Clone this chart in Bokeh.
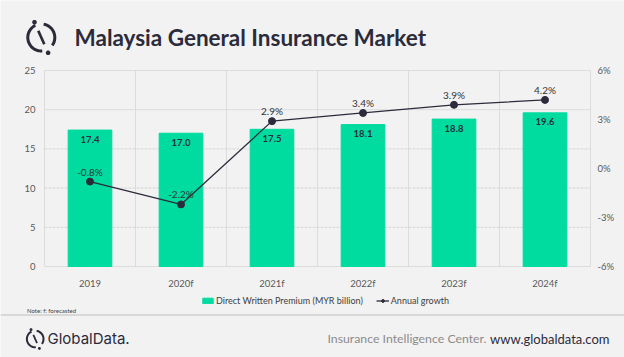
import numpy as np
from bokeh.plotting import figure
from bokeh.models import (Range1d, LinearAxis, FixedTicker, Legend, LegendItem,
                          ColumnDataSource, Label, PolyAnnotation)
from bokeh.core.properties import value
from bokeh.embed import file_html
from bokeh.resources import INLINE

# ---------------- data ----------------
categories = ["2019", "2020f", "2021f", "2022f", "2023f", "2024f"]
premium = [17.4, 17.0, 17.5, 18.1, 18.8, 19.6]
growth = [-0.8, -2.2, 2.9, 3.4, 3.9, 4.2]
left_ticks = [0, 5, 10, 15, 20, 25]
right_ticks = [-6, -3, 0, 3, 6]

BG = "#f2f2f2"
GREEN = "#00dba0"
DARK = "#2b2b3b"
GRID = "#dcdcdc"
FONT = "Lato"
W, H = 624, 357
FL, FR, FT, FB = 44, 590, 70, 266   # plot-area edges in page pixels

n = len(categories)
ymax, gmin, gmax = left_ticks[-1], right_ticks[0], right_ticks[-1]


# The frame covers the whole page; ranges are widened so the chart area sits at FL..FR, FT..FB.
def widen(lo, hi, p0, p1, full):
    per = (hi - lo) / (p1 - p0)
    return lo - p0 * per, hi + (full - p1) * per


xr = widen(0, n, FL, FR, W)
yr = widen(0, ymax, H - FB, H - FT, H)
gr = widen(gmin, gmax, H - FB, H - FT, H)

xs = np.arange(n) + 0.5
src = ColumnDataSource(dict(x=xs, premium=premium, growth=growth,
                            plab=[f"{v:.1f}" for v in premium],
                            glab=[f"{v:.1f}%" for v in growth]))

p = figure(width=W, height=H, x_range=Range1d(*xr), y_range=Range1d(*yr),
           output_backend="svg", toolbar_location=None, title=None, min_border=0,
           background_fill_color=BG, border_fill_color=BG, outline_line_color=None)
p.extra_y_ranges = {"g": Range1d(*gr)}

# grid lines bounded to the chart area
p.xgrid.visible = False
p.ygrid.visible = False
vx = list(range(n + 1))
p.segment(x0=vx, y0=[0] * len(vx), x1=vx, y1=[ymax] * len(vx), line_color=GRID, line_width=1)
solid = [t for t in left_ticks if t in (left_ticks[0], left_ticks[-2], left_ticks[-1])]
dashed = [t for t in left_ticks if t not in solid]
p.segment(x0=[0] * len(solid), y0=solid, x1=[n] * len(solid), y1=solid,
          line_color=GRID, line_width=1)
p.segment(x0=[0] * len(dashed), y0=dashed, x1=[n] * len(dashed), y1=dashed,
          line_color="#d6d6d6", line_width=1, line_dash="3 1")

bars = p.vbar(x="x", top="premium", width=0.48, source=src, fill_color=GREEN, line_color=GREEN)
gl = p.line(x="x", y="growth", source=src, y_range_name="g", line_color=DARK, line_width=1.3)
gs = p.scatter(x="x", y="growth", source=src, y_range_name="g", size=7, color=DARK)

p.text(x="x", y="premium", text="plab", source=src, text_align="center", text_baseline="middle",
       y_offset=9, text_font=value(FONT), text_font_style="bold", text_font_size="9.5px",
       text_color=DARK)
p.text(x="x", y="growth", text="glab", source=src, y_range_name="g", text_align="center",
       text_baseline="middle", y_offset=-10, text_font=value(FONT), text_font_size="10px",
       text_color="#333333")

# axes drawn at fixed locations (they take no border space)
p.xaxis.ticker = FixedTicker(ticks=list(xs))
p.xaxis.major_label_overrides = {float(x): c for x, c in zip(xs, categories)}
p.xaxis.fixed_location = 0
p.yaxis.ticker = FixedTicker(ticks=left_ticks)
p.yaxis.fixed_location = 0
ra = LinearAxis(y_range_name="g", ticker=FixedTicker(ticks=right_ticks), fixed_location=n)
ra.major_label_overrides = {t: f"{t}%" for t in right_ticks}
p.add_layout(ra, "right")
for ax in [p.xaxis[0], p.yaxis[0], ra]:
    ax.axis_line_color = None
    ax.major_tick_line_color = None
    ax.minor_tick_line_color = None
    ax.major_tick_out = 0
    ax.major_tick_in = 0
    ax.minor_tick_out = 0
    ax.major_label_text_font = FONT
    ax.major_label_text_font_size = "9.5px"
    ax.major_label_text_color = "#595959"
p.xaxis.major_label_standoff = 11
p.yaxis[0].major_label_standoff = 9
ra.major_label_standoff = 7

legend = Legend(items=[LegendItem(label="Direct Written Premium (MYR billion)", renderers=[bars]),
                       LegendItem(label="Annual growth", renderers=[gl, gs])],
                orientation="horizontal", location=(201, H - 306),
                background_fill_alpha=0, border_line_color=None,
                glyph_width=13, glyph_height=7, label_standoff=2, spacing=13,
                padding=0, margin=0, label_height=10,
                label_text_font=FONT, label_text_font_size="9px", label_text_color="#404040")
p.add_layout(legend)


# ------------- decorations (page pixel coords -> screen units of the full-page frame) -------------
def sx(X):
    return X


def sy(Y):
    return H - Y


def poly(xpts, ypts, color=DARK):
    p.add_layout(PolyAnnotation(xs=[sx(v) for v in xpts], ys=[sy(v) for v in ypts],
                                xs_units="screen", ys_units="screen",
                                fill_color=color, fill_alpha=1, line_color=None))


def ring(cx, cy, r, lw, a0, a1):
    t = np.deg2rad(np.linspace(a0, a1, 40))
    ro, ri = r + lw / 2, r - lw / 2
    xo = cx + ro * np.cos(t)
    yo = cy - ro * np.sin(t)
    xi = cx + ri * np.cos(t[::-1])
    yi = cy - ri * np.sin(t[::-1])
    poly(list(xo) + list(xi), list(yo) + list(yi))


def dot(cx, cy, r):
    t = np.linspace(0, 2 * np.pi, 20, endpoint=False)
    poly(list(cx + r * np.cos(t)), list(cy + r * np.sin(t)))


def bar_seg(x0, y0, x1, y1, lw):
    dx, dy = x1 - x0, y1 - y0
    nn = np.hypot(dx, dy)
    nx, ny = -dy / nn * lw / 2, dx / nn * lw / 2
    poly([x0 + nx, x1 + nx, x1 - nx, x0 - nx], [y0 + ny, y1 + ny, y1 - ny, y0 - ny])


def logo(cx, cy, r, lw, dr):
    ring(cx, cy, r, lw, 116, 274)
    ring(cx, cy, r, lw, -36, 80)
    ang = np.deg2rad(-66)
    ux, uy = np.cos(ang), -np.sin(ang)   # page coords (y down)
    bar_seg(cx - ux * r * 0.55, cy - uy * r * 0.55, cx + ux * r * 0.55, cy + uy * r * 0.55, lw * 0.9)
    dot(cx - ux * r * 1.24, cy - uy * r * 1.24, dr)
    dot(cx + ux * r * 1.24, cy + uy * r * 1.24, dr)


def label(X, Y, text, size, color=DARK, font=FONT, style="normal", align="left"):
    p.add_layout(Label(x=sx(X), y=sy(Y), x_units="screen", y_units="screen", text=text,
                       text_font=font, text_font_size=size, text_font_style=style,
                       text_color=color, text_baseline="middle", text_align=align))


# header
logo(40.8, 37, 13.5, 3, 2.3)
label(74, 37, "Malaysia General Insurance Market", "22.5px", style="bold")

# note, separator and footer
label(26.5, 310, "Note: f: forecasted", "6px", color="#404040")
poly([0, W, W, 0], [313.8, 313.8, 315.2, 315.2], color="#cfcfcf")
logo(34.7, 338.5, 8.3, 2, 1.5)
label(47, 338, "GlobalData.", "15px", font="Inter")
label(486, 338, "Insurance Intelligence Center.", "12.3px", color="#8c8c8c", align="right")
label(609, 338, "www.globaldata.com", "13px", align="right")

open("out.html", "w").write(file_html(p, INLINE))
